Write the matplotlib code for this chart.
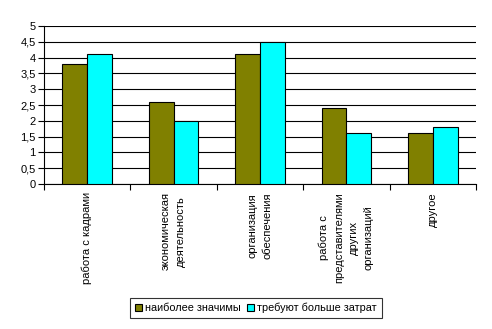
import numpy as np
import matplotlib.pyplot as plt
from matplotlib.patches import Patch
from matplotlib.ticker import FuncFormatter, MultipleLocator

plt.rcParams['font.family'] = ['Liberation Sans', 'DejaVu Sans']
plt.rcParams['font.size'] = 8

categories = [
    'работа с кадрами',
    'экономическая\nдеятельность',
    'организация\nобеспечения',
    'работа с\nпредставителями\nдругих\nорганизаций',
    'другое',
]
most_important = [3.8, 2.6, 4.1, 2.4, 1.6]
more_costly = [4.1, 2.0, 4.5, 1.6, 1.8]
series_names = ['наиболее значимы', 'требуют больше затрат']
colors = ['#808000', '#00FFFF']

fig = plt.figure(figsize=(4.92, 3.29), dpi=100)
ax = fig.add_axes([0.0894, 0.4407, 0.8781, 0.4803])

x = np.arange(len(categories))
w = 0.286
ax.bar(x - w / 2, most_important, w, color=colors[0], edgecolor='black', linewidth=0.8, zorder=3)
ax.bar(x + w / 2, more_costly, w, color=colors[1], edgecolor='black', linewidth=0.8, zorder=3)

ax.set_xlim(-0.5, len(categories) - 0.5)
ax.set_ylim(0, 5)
ax.yaxis.set_major_locator(MultipleLocator(0.5))
ax.yaxis.set_major_formatter(FuncFormatter(lambda v, p: f'{v:g}'.replace('.', ',')))
ax.grid(axis='y', color='black', linewidth=0.8, zorder=0)

# category boundaries carry the tick marks, labels sit at centres
ax.set_xticks(np.arange(len(categories) + 1) - 0.5)
ax.set_xticklabels([])
ax.tick_params(axis='x', length=4, width=0.8, color='black')
ax.tick_params(axis='y', length=4, width=0.8, pad=2)
for i, lab in enumerate(categories):
    ax.annotate(lab, xy=(i, 0), xycoords=('data', 'axes fraction'),
                xytext=(0, -6), textcoords='offset points',
                rotation=90, ha='center', va='top', multialignment='center',
                linespacing=1.6)

for side in ['top', 'right']:
    ax.spines[side].set_visible(False)
ax.spines['left'].set_linewidth(0.8)
ax.spines['bottom'].set_linewidth(0.8)

handles = [Patch(facecolor=c, edgecolor='black', linewidth=0.8) for c in colors]
leg = fig.legend(handles, series_names, loc='center', bbox_to_anchor=(0.52, 0.064),
                 ncol=2, frameon=True, fancybox=False, edgecolor='black',
                 handlelength=0.7, handleheight=0.7, handletextpad=0.3,
                 columnspacing=0.5, borderpad=0.45, borderaxespad=0.3, fontsize=7.8)
leg.get_frame().set_linewidth(0.8)

fig.savefig('out.png', dpi=100)
